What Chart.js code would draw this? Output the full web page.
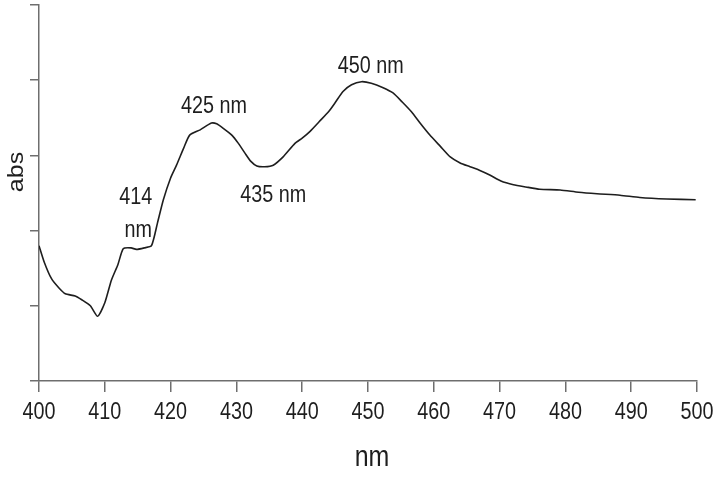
<!DOCTYPE html>
<html>
<head>
<meta charset="utf-8">
<script src="https://cdn.jsdelivr.net/npm/chart.js@4/dist/chart.umd.min.js"></script>
<style>
  html, body { margin: 0; padding: 0; background: #fff; }
  #wrap { width: 715px; height: 477px; }
</style>
</head>
<body>
<div id="wrap"><canvas id="specChart" width="715" height="477"></canvas></div>
<script>
// Spectrum (absorbance in arbitrary units, 0..5 = axis ticks)
const wavelengths = [
  400.0, 400.8, 401.9, 403.0, 404.0, 405.5, 406.5, 407.8, 408.9, 410.0,
  411.0, 412.0, 412.8, 414.0, 414.8, 416.0, 417.1, 418.0, 418.9, 420.0,
  420.9, 422.0, 422.9, 424.5, 426.2, 427.0, 428.0, 429.3, 430.3, 431.3,
  432.2, 433.1, 434.3, 435.6, 437.1, 438.9, 440.0, 441.2, 442.6, 444.0,
  445.0, 446.2, 447.5, 449.0, 450.5, 452.3, 453.8, 455.2, 456.6, 458.0,
  459.4, 461.0, 462.5, 464.0, 465.5, 467.0, 468.5, 470.2, 472.1, 474.0,
  476.1, 479.2, 482.0, 484.8, 488.3, 491.3, 495.4, 499.8
];
const absorbance = [
  1.80, 1.58, 1.36, 1.24, 1.16, 1.13, 1.08, 1.00, 0.86, 1.04,
  1.34, 1.55, 1.76, 1.77, 1.75, 1.77, 1.80, 2.10, 2.41, 2.70,
  2.87, 3.10, 3.27, 3.34, 3.43, 3.42, 3.36, 3.27, 3.16, 3.03,
  2.92, 2.86, 2.85, 2.87, 2.98, 3.16, 3.23, 3.32, 3.45, 3.58,
  3.70, 3.85, 3.94, 3.98, 3.96, 3.90, 3.83, 3.71, 3.58, 3.42,
  3.27, 3.12, 2.98, 2.90, 2.85, 2.80, 2.74, 2.66, 2.61, 2.58,
  2.55, 2.54, 2.51, 2.49, 2.47, 2.44, 2.42, 2.41
];

// x tick labels
const xTicks = [400, 410, 420, 430, 440, 450, 460, 470, 480, 490, 500];

// peak annotations (text, wavelength, absorbance at text baseline)
const peakLabels = ["414", "nm", "425 nm", "435 nm", "450 nm"];
const peakLabelX = [414.7, 415.1, 426.6, 435.6, 450.4];
const peakLabelY = [2.35, 1.92, 3.56, 2.38, 4.09];

const axisGray = "#6e6e6e";
const inkColor = "#1e1e1e";
const squeeze = 0.86;   // the original text is horizontally condensed

function drawText(ctx, text, x, y, size, rotate) {
  ctx.save();
  ctx.translate(x, y);
  if (rotate) {
    ctx.rotate(-Math.PI / 2);
    ctx.scale(1, squeeze);
  } else {
    ctx.scale(squeeze, 1);
  }
  ctx.font = size + "px 'Liberation Sans', Arial, sans-serif";
  ctx.fillStyle = inkColor;
  ctx.textAlign = "center";
  ctx.textBaseline = rotate ? "middle" : "alphabetic";
  ctx.fillText(text, 0, 0);
  ctx.restore();
}

const textPlugin = {
  id: "textPlugin",
  afterDraw(chart) {
    const ctx = chart.ctx;
    const xs = chart.scales.x;
    const ys = chart.scales.y;
    const area = chart.chartArea;

    // tick labels
    xTicks.forEach(v => {
      drawText(ctx, String(v), xs.getPixelForValue(v), area.bottom + 38, 23, false);
    });

    // axis titles
    drawText(ctx, "nm", (area.left + area.right) / 2 + 4, area.bottom + 85, 29, false);
    drawText(ctx, "abs", 17, 172, 25, true);

    // peak labels
    peakLabels.forEach((t, i) => {
      drawText(ctx, t, xs.getPixelForValue(peakLabelX[i]), ys.getPixelForValue(peakLabelY[i]), 23, false);
    });
  }
};

const points = wavelengths.map((w, i) => ({ x: w, y: absorbance[i] }));

const ctx = document.getElementById("specChart").getContext("2d");
const chart = new Chart(ctx, {
  type: "line",
  data: {
    datasets: [
      {
        label: "abs",
        data: points,
        borderColor: inkColor,
        borderWidth: 1.6,
        pointRadius: 0,
        tension: 0.2,
        fill: false,
      },
    ],
  },
  options: {
    responsive: false,
    animation: false,
    layout: { padding: { top: 5, right: 18, left: 0, bottom: 0 } },
    plugins: {
      legend: { display: false },
      tooltip: { enabled: false },
    },
    scales: {
      x: {
        type: "linear",
        min: 400,
        max: 500,
        afterBuildTicks(scale) {
          scale.ticks = xTicks.map(v => ({ value: v }));
        },
        ticks: { display: false },
        grid: { drawOnChartArea: false, color: axisGray, tickLength: 11, lineWidth: 1.5 },
        border: { color: axisGray, width: 1.5 },
        afterFit(scale) { scale.height = 96; },
      },
      y: {
        min: 0,
        max: 5,
        ticks: { display: false, stepSize: 1 },
        grid: { drawOnChartArea: false, color: axisGray, tickLength: 9, lineWidth: 1.5 },
        border: { color: axisGray, width: 1.5 },
        afterFit(scale) { scale.width = 39; },
      },
    },
  },
  plugins: [textPlugin],
});
</script>
</body>
</html>
